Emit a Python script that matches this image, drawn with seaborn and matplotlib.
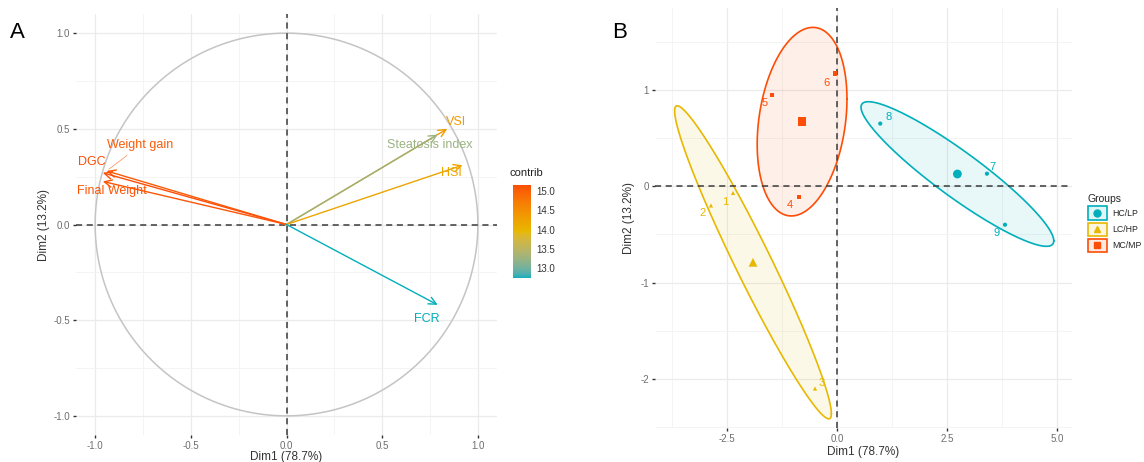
import numpy as np
import pandas as pd
import matplotlib
matplotlib.use("Agg")
import matplotlib.pyplot as plt
import seaborn as sns
from matplotlib.colors import ListedColormap, Normalize, to_rgba, to_rgb
from matplotlib.lines import Line2D
from matplotlib.patches import Rectangle
from matplotlib.cm import ScalarMappable

# ---- variables (correlation circle) ----
var_names = ["Weight gain", "DGC", "Final Weight", "VSI", "Steatosis index", "HSI", "FCR"]
var_dim1 = [-0.94, -0.96, -0.96, 0.84, 0.79, 0.92, 0.79]
var_dim2 = [0.28, 0.27, 0.225, 0.50, 0.47, 0.31, -0.42]
var_contrib = [15.05, 15.16, 15.10, 14.35, 13.25, 14.20, 12.74]

# ---- individuals ----
ind_labels = ["1", "2", "3", "4", "5", "6", "7", "8", "9"]
ind_dim1 = [-2.36, -2.86, -0.50, -0.86, -1.47, -0.05, 3.40, 0.98, 3.81]
ind_dim2 = [-0.07, -0.20, -2.10, -0.11, 0.95, 1.17, 0.13, 0.65, -0.40]
ind_group = ["LC/HP"] * 3 + ["MC/MP"] * 3 + ["HC/LP"] * 3
group_order = ["HC/LP", "LC/HP", "MC/MP"]

xlab = "Dim1 (78.7%)"
ylab = "Dim2 (13.2%)"

# ---- styling ----
sns.set_theme(style="white")
plt.rcParams["font.family"] = ["Liberation Sans", "DejaVu Sans"]


# gradient interpolated in CIELAB space
def _srgb_to_lab(c):
    c = np.asarray(c, float)
    lin = np.where(c <= 0.04045, c / 12.92, ((c + 0.055) / 1.055) ** 2.4)
    M = np.array([[0.4124, 0.3576, 0.1805], [0.2126, 0.7152, 0.0722], [0.0193, 0.1192, 0.9505]])
    xyz = M @ lin / np.array([0.95047, 1.0, 1.08883])
    f = np.where(xyz > 0.008856, np.cbrt(xyz), 7.787 * xyz + 16 / 116)
    return np.array([116 * f[1] - 16, 500 * (f[0] - f[1]), 200 * (f[1] - f[2])])


def _lab_to_srgb(lab):
    L, a, b = lab
    fy = (L + 16) / 116
    fx = fy + a / 500
    fz = fy - b / 200
    f = np.array([fx, fy, fz])
    xyz = np.where(f ** 3 > 0.008856, f ** 3, (f - 16 / 116) / 7.787) * np.array([0.95047, 1.0, 1.08883])
    Minv = np.linalg.inv(np.array([[0.4124, 0.3576, 0.1805], [0.2126, 0.7152, 0.0722], [0.0193, 0.1192, 0.9505]]))
    lin = np.clip(Minv @ xyz, 0, 1)
    return np.clip(np.where(lin <= 0.0031308, 12.92 * lin, 1.055 * lin ** (1 / 2.4) - 0.055), 0, 1)


def lab_cmap(hexes, n=256):
    labs = [_srgb_to_lab(to_rgb(h)) for h in hexes]
    stops = np.linspace(0, 1, len(hexes))
    out = []
    for v in np.linspace(0, 1, n):
        i = min(np.searchsorted(stops, v, side="right") - 1, len(hexes) - 2)
        t = (v - stops[i]) / (stops[i + 1] - stops[i])
        out.append(_lab_to_srgb(labs[i] * (1 - t) + labs[i + 1] * t))
    return ListedColormap(out)


grad_cols = ["#00AFBB", "#E7B800", "#FC4E07"]
cmap = lab_cmap(grad_cols)
norm = Normalize(vmin=min(var_contrib), vmax=max(var_contrib))
group_pal = {"HC/LP": "#00AFBB", "LC/HP": "#E7B800", "MC/MP": "#FC4E07"}
group_mark = {"HC/LP": "o", "LC/HP": "^", "MC/MP": "s"}

# label placement relative to arrow tips (data units)
var_label_off = {
    "Weight gain": (0.176, 0.134),
    "DGC": (-0.056, 0.055),
    "Final Weight": (0.049, -0.052),
    "VSI": (0.045, 0.034),
    "Steatosis index": (-0.041, -0.056),
    "HSI": (-0.056, -0.043),
    "FCR": (-0.057, -0.072),
}
# point label offsets (pixels)
ind_label_off = {
    "1": (-8, -9), "2": (-8, -8), "3": (7, 6), "4": (-9, -8), "5": (-8, -8),
    "6": (-8, -9), "7": (6, 7), "8": (8, 7), "9": (-8, -8),
}

W, H = 1144, 462
fig = plt.figure(figsize=(W / 100, H / 100), dpi=100)


def px_axes(left, top, right, bottom):
    return fig.add_axes([left / W, 1 - bottom / H, (right - left) / W, (bottom - top) / H])


def style_axes(ax, major_x, major_y, minor_x, minor_y):
    ax.set_xticks(major_x)
    ax.set_yticks(major_y)
    ax.set_xticks(minor_x, minor=True)
    ax.set_yticks(minor_y, minor=True)
    ax.grid(True, which="major", color="#EBEBEB", lw=0.9, zorder=0)
    ax.grid(True, which="minor", color="#F3F3F3", lw=0.6, zorder=0)
    for s in ax.spines.values():
        s.set_visible(False)
    ax.tick_params(which="major", length=2.5, width=1, color="#333333",
                   labelsize=7, labelcolor="#6E6E6E", pad=2, direction="out",
                   bottom=True, left=True)
    ax.tick_params(which="minor", length=0)
    ax.set_axisbelow(True)


# ================= Panel A =================
axA = px_axes(76, 14, 497, 435)
ticksA = [-1.0, -0.5, 0.0, 0.5, 1.0]
minorA = [-0.75, -0.25, 0.25, 0.75]
style_axes(axA, ticksA, ticksA, minorA, minorA)
axA.set_xticklabels(["-1.0", "-0.5", "0.0", "0.5", "1.0"])
axA.set_yticklabels(["-1.0", "-0.5", "0.0", "0.5", "1.0"])
axA.set_xlim(-1.1, 1.1)
axA.set_ylim(-1.1, 1.1)

t = np.linspace(0, 2 * np.pi, 400)
sns.lineplot(x=np.cos(t), y=np.sin(t), sort=False, estimator=None, ax=axA,
             color="#C4C4C4", lw=1.1, zorder=2)
axA.axhline(0, color="#3A3A3A", lw=1.1, ls=(0, (4, 3)), zorder=3)
axA.axvline(0, color="#3A3A3A", lw=1.1, ls=(0, (4, 3)), zorder=3)

for name, x, y, c in zip(var_names, var_dim1, var_dim2, var_contrib):
    col = cmap(norm(c))
    axA.annotate("", xy=(x, y), xytext=(0, 0),
                 arrowprops=dict(arrowstyle="->,head_length=0.45,head_width=0.22",
                                 color=col, lw=1.0, shrinkA=0, shrinkB=0),
                 zorder=4)
    dx, dy = var_label_off[name]
    if name == "Weight gain":
        axA.annotate(name, xy=(x, y), xytext=(x + dx, y + dy), color=col,
                     fontsize=9, ha="center", va="center",
                     arrowprops=dict(arrowstyle="-", color=col, lw=0.5,
                                     shrinkA=1, shrinkB=2, alpha=0.7),
                     zorder=5)
    else:
        axA.text(x + dx, y + dy, name, color=col, fontsize=9,
                 ha="center", va="center", zorder=5)

axA.set_xlabel(xlab, fontsize=8.5, color="#333333", labelpad=0)
axA.set_ylabel(ylab, fontsize=8.5, color="#333333", labelpad=2)

# colour bar
cax = px_axes(513, 185, 531, 278)
cb = fig.colorbar(ScalarMappable(norm=norm, cmap=cmap), cax=cax)
cb.outline.set_visible(False)
cb.set_ticks([13.0, 13.5, 14.0, 14.5, 15.0])
cb.ax.set_yticklabels(["13.0", "13.5", "14.0", "14.5", "15.0"])
cax.yaxis.set_ticks_position("both")
cax.tick_params(which="major", direction="in", length=3, color="white", width=0.8,
                labelsize=7, labelcolor="#333333", labelleft=False, labelright=True, pad=4)
cax.tick_params(which="minor", length=0)
fig.text(510 / W, 1 - 173 / H, "contrib", fontsize=8, color="#222222", va="center", ha="left")

# ================= Panel B =================
axB = px_axes(655, 8, 1072, 428)
style_axes(axB, [-2.5, 0.0, 2.5, 5.0], [-2, -1, 0, 1],
           [-3.75, -1.25, 1.25, 3.75], [-2.5, -1.5, -0.5, 0.5, 1.5])
axB.set_xticklabels(["-2.5", "0.0", "2.5", "5.0"])
axB.set_yticklabels(["-2", "-1", "0", "1"])
axB.set_xlim(-4.13, 5.33)
axB.set_ylim(-2.51, 1.85)

ind = pd.DataFrame({"label": ind_labels, "Dim1": ind_dim1, "Dim2": ind_dim2, "Groups": ind_group})

# ellipses from each group's covariance
ell_scale = 1.43
tt = np.linspace(0, 2 * np.pi, 300)
for g in group_order:
    sub = ind[ind.Groups == g][["Dim1", "Dim2"]].to_numpy()
    mu = sub.mean(axis=0)
    cov = np.cov(sub.T)
    L = np.linalg.cholesky(cov)
    pts = mu[:, None] + ell_scale * L @ np.vstack([np.cos(tt), np.sin(tt)])
    axB.fill(pts[0], pts[1], color=group_pal[g], alpha=0.09, lw=0, zorder=2)
    axB.plot(pts[0], pts[1], color=group_pal[g], lw=1.2, zorder=3)

axB.axhline(0, color="#3A3A3A", lw=1.1, ls=(0, (4, 3)), zorder=4)
axB.axvline(0, color="#3A3A3A", lw=1.1, ls=(0, (4, 3)), zorder=4)

sns.scatterplot(data=ind, x="Dim1", y="Dim2", hue="Groups", style="Groups",
                palette=group_pal, markers=group_mark, hue_order=group_order,
                style_order=group_order, s=9, linewidth=0, legend=False, ax=axB, zorder=5)
means = ind.groupby("Groups", as_index=False)[["Dim1", "Dim2"]].mean()
sns.scatterplot(data=means, x="Dim1", y="Dim2", hue="Groups", style="Groups",
                palette=group_pal, markers=group_mark, hue_order=group_order,
                style_order=group_order, s=40, linewidth=0, legend=False, ax=axB, zorder=6)

for _, r in ind.iterrows():
    ox, oy = ind_label_off[r.label]
    axB.annotate(r.label, xy=(r.Dim1, r.Dim2), xytext=(ox, oy),
                 textcoords="offset pixels", color=group_pal[r.Groups],
                 fontsize=8, ha="center", va="center", zorder=7)

axB.set_xlabel(xlab, fontsize=8.5, color="#333333", labelpad=1)
axB.set_ylabel(ylab, fontsize=8.5, color="#333333", labelpad=4)


# legend key: tinted box with the group marker centred inside
class GroupKey:
    def __init__(self, color, marker):
        self.color = color
        self.marker = marker


class GroupKeyHandler:
    def legend_artist(self, legend, orig_handle, fontsize, handlebox):
        x0, y0 = -handlebox.xdescent, -handlebox.ydescent
        w, h = handlebox.width, handlebox.height
        tr = handlebox.get_transform()
        rect = Rectangle((x0, y0), w, h, facecolor=to_rgba(orig_handle.color, 0.12),
                         edgecolor=orig_handle.color, lw=1.2, transform=tr)
        mk = Line2D([x0 + w / 2], [y0 + h / 2], ls="none", marker=orig_handle.marker,
                    color=orig_handle.color, markersize=5, transform=tr)
        handlebox.add_artist(rect)
        handlebox.add_artist(mk)
        return rect


keys = [GroupKey(group_pal[g], group_mark[g]) for g in group_order]
leg = fig.legend(keys, group_order, title="Groups", loc="upper left",
                 bbox_to_anchor=(1086 / W, 1 - 192 / H), frameon=False,
                 handler_map={GroupKey: GroupKeyHandler()},
                 fontsize=6.3, title_fontsize=7.5, handlelength=2.15, handleheight=2.0,
                 handletextpad=0.6, labelspacing=0.3, borderpad=0.2, borderaxespad=0)
leg._legend_box.align = "left"

# panel tags
fig.text(10 / W, 1 - 33 / H, "A", fontsize=16, color="black", va="center", ha="left")
fig.text(612 / W, 1 - 33 / H, "B", fontsize=16, color="black", va="center", ha="left")

fig.savefig("out.png", dpi=100, facecolor="white")
